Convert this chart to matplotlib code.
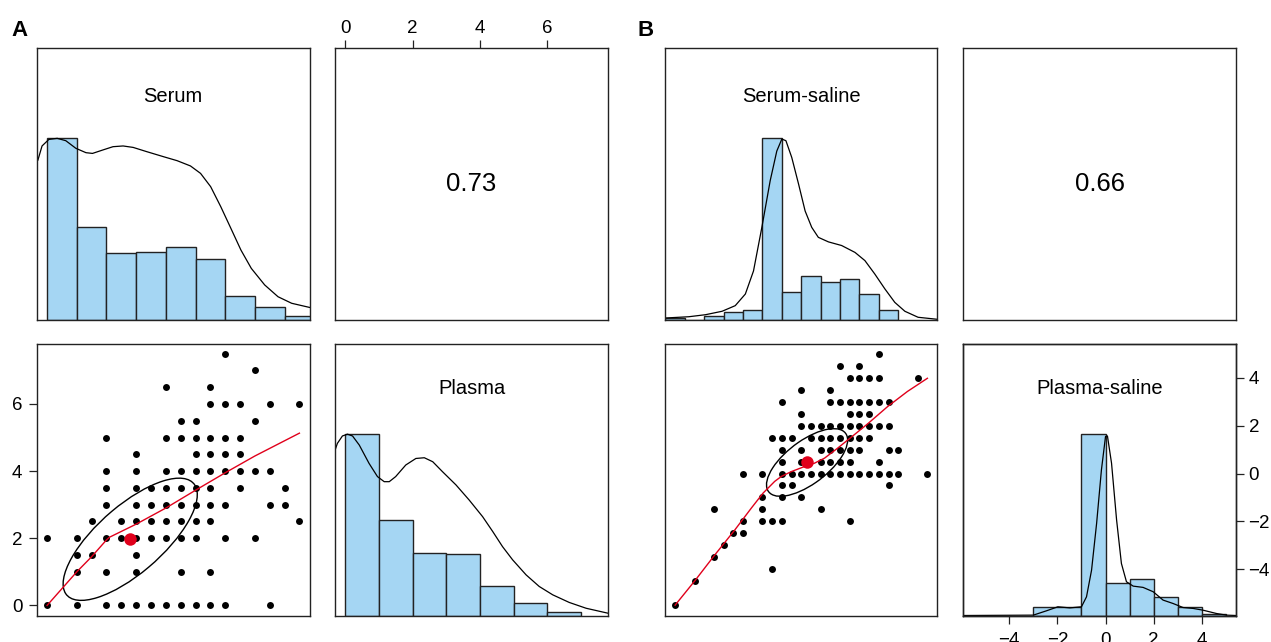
import numpy as np
import matplotlib.pyplot as plt
from matplotlib.patches import Ellipse

plt.rcParams['font.family'] = ['Liberation Sans', 'DejaVu Sans']

HIST_COL = '#a5d6f3'
RED = '#e0001b'
FRAME = '#222222'

# ---------------- panel A: Serum / Plasma ----------------
serum_range = (0.0, 8.5)
plasma_range = (0.0, 7.5)

serum_edges = [0, 1, 2, 3, 4, 5, 6, 7, 8, 9]
serum_hist = [1.0, 0.514, 0.367, 0.376, 0.404, 0.334, 0.132, 0.070, 0.022]
serum_dens_x = [-0.31, -0.17, 0.06, 0.34, 0.63, 0.97, 1.31, 1.53, 1.88, 2.22, 2.56, 2.9,
                3.35, 3.92, 4.38, 4.83, 5.17, 5.51, 5.85, 6.19, 6.53, 6.88, 7.33, 7.78, 8.24, 8.98]
serum_dens_y = [0.88, 0.958, 0.994, 1.0, 0.987, 0.945, 0.921, 0.917, 0.936, 0.954, 0.958, 0.95,
                0.927, 0.899, 0.877, 0.848, 0.807, 0.734, 0.624, 0.505, 0.385, 0.284, 0.193, 0.128, 0.092, 0.064]

plasma_edges = [0, 1, 2, 3, 4, 5, 6, 7]
plasma_hist = [1.0, 0.527, 0.347, 0.338, 0.163, 0.068, 0.018]
plasma_dens_x = [-0.33, -0.23, -0.08, 0.07, 0.22, 0.42, 0.71, 0.96, 1.16, 1.31, 1.5, 1.8, 2.1, 2.35,
                 2.6, 2.89, 3.29, 3.68, 4.08, 4.38, 4.67, 4.97, 5.37, 5.76, 6.16, 6.65, 7.15, 7.79]
plasma_dens_y = [0.894, 0.949, 0.99, 1.0, 0.99, 0.94, 0.839, 0.766, 0.738, 0.738, 0.766, 0.83, 0.866, 0.87,
                 0.848, 0.793, 0.72, 0.637, 0.545, 0.463, 0.38, 0.307, 0.224, 0.16, 0.114, 0.072, 0.04, 0.013]

# scatter A, one row per plasma level
a_levels = [7.5, 7.0, 6.5, 6.0, 5.5, 5.0, 4.5, 4.0, 3.5, 3.0, 2.5, 2.0, 1.5, 1.0, 0.0]
a_serum_rows = [
    [6.0],
    [7.0],
    [4.0, 5.5],
    [5.5, 6.0, 6.5, 7.5, 8.5],
    [4.5, 5.0, 7.0],
    [2.0, 4.0, 4.5, 5.0, 5.5, 6.0, 6.5],
    [3.0, 5.0, 5.5, 6.0, 6.5],
    [2.0, 3.0, 4.0, 4.5, 5.0, 5.5, 6.0, 6.5, 7.0, 7.5],
    [2.0, 3.0, 3.5, 4.0, 4.5, 5.0, 5.5, 6.5, 8.0],
    [2.0, 3.0, 3.5, 4.0, 4.5, 5.0, 5.5, 6.0, 7.5, 8.0],
    [1.5, 2.5, 3.0, 3.5, 4.0, 4.5, 5.0, 5.5, 8.5],
    [0.0, 1.0, 2.0, 2.5, 3.0, 3.5, 4.0, 4.5, 5.0, 6.0, 7.0],
    [1.0, 1.5, 3.0],
    [1.0, 2.0, 3.0, 4.5, 5.5],
    [0.0, 1.0, 2.0, 2.5, 3.0, 3.5, 4.0, 4.5, 5.0, 5.5, 6.0, 7.5],
]
a_smooth_x = [0.0, 1.0, 1.5, 2.0, 2.1, 3.0, 4.0, 5.0, 6.0, 7.0, 8.5]
a_smooth_y = [0.0, 1.0, 1.45, 1.95, 2.03, 2.42, 2.9, 3.43, 3.95, 4.45, 5.13]
a_mean = (2.8, 1.97)
a_sd = (2.26, 1.82)
a_r = 0.73

# ---------------- panel B: Serum-saline / Plasma-saline ----------------
ss_range = (-5.5, 7.5)
ps_range = (-5.5, 5.0)

ss_edges = [-6, -5, -4, -3, -2, -1, 0, 1, 2, 3, 4, 5, 6]
ss_hist = [0.011, 0.0, 0.022, 0.042, 0.055, 1.0, 0.152, 0.242, 0.209, 0.227, 0.143, 0.055]
ss_dens_x = [-6.0, -4.79, -3.94, -3.08, -2.4, -1.88, -1.46, -1.03, -0.6, -0.26, 0.0, 0.21, 0.51, 0.86,
             1.2, 1.54, 1.88, 2.4, 3.08, 3.77, 4.28, 4.79, 5.31, 5.82, 6.34, 7.02, 8.0]
ss_dens_y = [0.011, 0.018, 0.029, 0.048, 0.079, 0.143, 0.27, 0.51, 0.767, 0.93, 0.996, 0.987, 0.895, 0.749,
             0.6, 0.51, 0.455, 0.43, 0.41, 0.372, 0.327, 0.253, 0.171, 0.097, 0.048, 0.015, 0.004]

ps_edges = [-3, -1, 0, 1, 2, 3, 4, 5]
ps_hist = [0.048, 1.0, 0.177, 0.204, 0.103, 0.048, 0.009]
ps_dens_x = [-5.92, -3.0, -2.45, -1.98, -1.48, -1.0, -0.79, -0.58, -0.37, -0.17, 0.0, 0.08, 0.25, 0.46,
             0.66, 0.87, 1.15, 1.56, 1.98, 2.39, 2.81, 3.22, 3.64, 4.06, 4.61, 5.02, 5.42]
ps_dens_y = [0.0, 0.002, 0.026, 0.048, 0.042, 0.048, 0.103, 0.25, 0.508, 0.803, 0.987, 0.99, 0.84, 0.527,
             0.287, 0.186, 0.162, 0.155, 0.131, 0.085, 0.066, 0.044, 0.039, 0.029, 0.011, 0.002, 0.0]

b_levels = [5.0, 4.5, 4.0, 3.5, 3.0, 2.5, 2.0, 1.5, 1.0, 0.5, 0.0, -0.5, -1.0, -1.5, -2.0,
            -2.5, -3.0, -3.5, -4.0, -4.5, -5.5]
b_ss_rows = [
    [5.0],
    [3.0, 4.0],
    [3.5, 4.0, 4.5, 5.0, 7.0],
    [1.0, 2.5],
    [0.0, 2.5, 3.0, 3.5, 4.0, 4.5, 5.0, 5.5],
    [1.0, 3.5, 4.0, 4.5],
    [1.0, 1.5, 2.0, 2.5, 3.0, 3.5, 4.0, 4.5, 5.0, 5.5],
    [-0.5, 0.0, 0.5, 1.5, 2.0, 2.5, 3.0, 3.5, 4.0, 4.5],
    [0.0, 1.0, 2.0, 2.5, 3.0, 3.5, 4.0, 5.5, 6.0],
    [0.0, 1.0, 2.0, 2.5, 3.0, 3.5, 5.0],
    [-2.0, -1.0, 0.0, 0.5, 1.0, 1.5, 2.0, 2.5, 3.0, 3.5, 4.0, 4.5, 5.0, 5.5, 6.0, 7.5],
    [0.0, 0.5, 5.5],
    [-1.0, 0.0, 1.0],
    [-3.5, -1.0, 2.0],
    [-2.0, -1.0, -0.5, 0.0, 3.5],
    [-2.5, -2.0],
    [-3.0],
    [-3.5],
    [-0.5],
    [-4.5],
    [-5.5],
]
b_smooth_x = [-5.5, -4.47, -3.45, -2.42, -1.57, -0.97, -0.37, -0.03, 0.49, 1.17, 1.68, 2.2,
              2.88, 3.57, 4.42, 5.45, 6.47, 7.5]
b_smooth_y = [-5.49, -4.46, -3.39, -2.35, -1.44, -0.82, -0.33, -0.125, 0.08, 0.29, 0.43, 0.64,
              1.06, 1.51, 2.07, 2.79, 3.42, 3.97]
b_mean = (1.3, 0.46)
b_sd = (2.09, 1.41)
b_r = 0.66


def padded(rng):
    d = (rng[1] - rng[0]) * 0.04
    return rng[0] - d, rng[1] + d


W, H = 1271, 642
fig = plt.figure(figsize=(W / 100, H / 100), dpi=100)
TICK_FS = 13.5


def place(x0, y0, x1, y1):
    ax = fig.add_axes([x0 / W, 1 - y1 / H, (x1 - x0) / W, (y1 - y0) / H])
    for s in ax.spines.values():
        s.set_color(FRAME)
        s.set_linewidth(1.0)
    ax.set_xticks([])
    ax.set_yticks([])
    ax.tick_params(length=5.5, width=0.9, color=FRAME, labelsize=TICK_FS, pad=4.5)
    return ax


def diag(ax, rng, edges, heights, dx, dy, label, label_y):
    ax.set_xlim(padded(rng))
    ax.set_ylim(0, 1.5)
    ax.bar(edges[:-1], heights, width=np.diff(edges), align='edge',
           color=HIST_COL, edgecolor=FRAME, linewidth=1.0)
    ax.plot(dx, dy, color='black', lw=0.9)
    ax.text(0.5, label_y, label, transform=ax.transAxes, ha='center',
            va='baseline', fontsize=14.5)


def scatter(ax, xr, yr, levels, rows, sx, sy, mean, sd, r):
    ax.set_xlim(padded(xr))
    ax.set_ylim(padded(yr))
    xs = [v for row in rows for v in row]
    ys = [lv for lv, row in zip(levels, rows) for _ in row]
    ax.plot(xs, ys, 'o', color='black', ms=5.0, mew=0)
    cov = np.array([[sd[0] ** 2, r * sd[0] * sd[1]], [r * sd[0] * sd[1], sd[1] ** 2]])
    vals, vecs = np.linalg.eigh(cov)
    ang = np.degrees(np.arctan2(vecs[1, 1], vecs[0, 1]))
    ax.add_patch(Ellipse(mean, 2 * np.sqrt(vals[1]), 2 * np.sqrt(vals[0]), angle=ang,
                         fill=False, edgecolor='black', lw=1.0))
    ax.plot(sx, sy, color=RED, lw=1.0)
    ax.plot(*mean, 'o', color=RED, ms=9, mew=0)


# ---- A ----
ax = place(37, 47.5, 309.5, 320)
diag(ax, serum_range, serum_edges, serum_hist, serum_dens_x, serum_dens_y, 'Serum', 0.80)

ax = place(335, 47.5, 608, 320)
ax.set_xlim(padded(plasma_range))
ax.xaxis.tick_top()
ax.set_xticks([0, 2, 4, 6])
ax.tick_params(axis='x', pad=2.0)
ax.text(0.5, 0.5, '0.73', transform=ax.transAxes, ha='center', va='center', fontsize=18.5)

ax = place(37, 343.5, 309.5, 615.5)
scatter(ax, serum_range, plasma_range, a_levels, a_serum_rows, a_smooth_x, a_smooth_y, a_mean, a_sd, a_r)
ax.set_yticks([0, 2, 4, 6])
ax.tick_params(axis='y', pad=5.0)

ax = place(335, 343.5, 608, 615.5)
diag(ax, plasma_range, plasma_edges, plasma_hist, plasma_dens_x, plasma_dens_y, 'Plasma', 0.814)

# ---- B ----
ax = place(665, 47.5, 937.5, 320)
diag(ax, ss_range, ss_edges, ss_hist, ss_dens_x, ss_dens_y, 'Serum-saline', 0.80)

ax = place(963, 47.5, 1236, 320)
ax.text(0.5, 0.5, '0.66', transform=ax.transAxes, ha='center', va='center', fontsize=18.5)

ax = place(963, 343.5, 1236, 615.5)
diag(ax, ps_range, ps_edges, ps_hist, ps_dens_x, ps_dens_y, 'Plasma-saline', 0.814)
ax.set_xticks([-4, -2, 0, 2, 4])
ax.tick_params(axis='x', pad=6.5)
axr = ax.twinx()
axr.set_ylim(padded(ps_range))
axr.set_yticks([-4, -2, 0, 2, 4])
axr.tick_params(length=5.5, width=0.9, color=FRAME, labelsize=TICK_FS, pad=3.5)
for s in axr.spines.values():
    s.set_color(FRAME)
    s.set_linewidth(1.0)

ax = place(665, 343.5, 937.5, 615.5)
scatter(ax, ss_range, ps_range, b_levels, b_ss_rows, b_smooth_x, b_smooth_y, b_mean, b_sd, b_r)

fig.text(19 / W, 1 - 36.5 / H, 'A', ha='center', va='baseline', fontsize=16, fontweight='bold')
fig.text(646 / W, 1 - 36.5 / H, 'B', ha='center', va='baseline', fontsize=16, fontweight='bold')

fig.savefig('out.png', dpi=100)
